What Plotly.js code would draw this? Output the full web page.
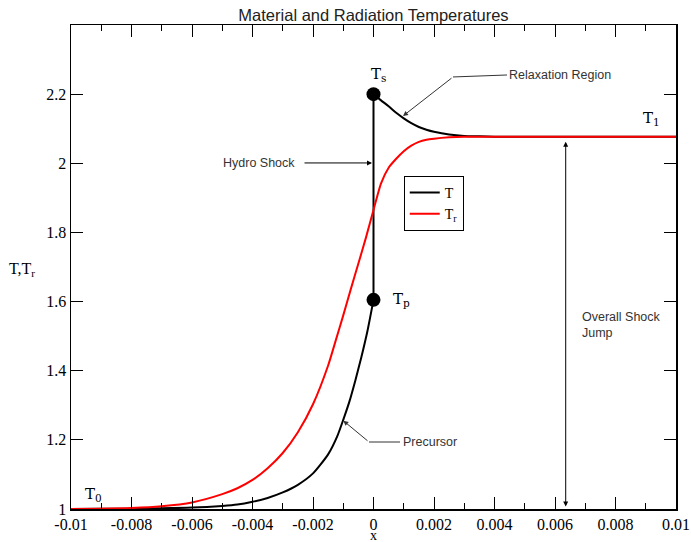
<!DOCTYPE html>
<html>
<head>
<meta charset="utf-8">
<script src="https://cdn.plot.ly/plotly-3.0.1.min.js"></script>
<style>html,body{margin:0;padding:0;background:#fff;}#chart{width:691px;height:542px;}</style>
</head>
<body>
<div id="chart"></div>
<script>
// ---- data ----
// material temperature T, precursor part (x <= 0)
var xPre = [-0.01, -0.009, -0.008, -0.007, -0.006, -0.005, -0.0045, -0.004, -0.0035, -0.003, -0.0025,
            -0.002, -0.0015, -0.0012, -0.001, -0.0008, -0.0006, -0.0004, -0.0002, 0];
var yPre = [1.000, 1.0005, 1.001, 1.002, 1.004, 1.009, 1.013, 1.021, 1.032, 1.048, 1.070,
            1.103, 1.158, 1.210, 1.258, 1.310, 1.372, 1.440, 1.515, 1.605];
// material temperature T, relaxation part (x >= 0)
var xRelax = [0, 0.00025, 0.0005, 0.00075, 0.001, 0.00125, 0.0015, 0.00175, 0.002, 0.0025, 0.003,
              0.0035, 0.004, 0.006, 0.008, 0.01];
var yRelax = [2.200, 2.182, 2.165, 2.146, 2.130, 2.116, 2.105, 2.097, 2.091, 2.083, 2.079,
              2.078, 2.077, 2.077, 2.077, 2.077];
// radiation temperature Tr
var xTr = [-0.01, -0.009, -0.008, -0.007, -0.006, -0.005, -0.0045, -0.004, -0.0035, -0.003, -0.0025,
           -0.002, -0.0015, -0.00125, -0.001, -0.00075, -0.0005, -0.00025, 0, 0.00025, 0.0005,
           0.00075, 0.001, 0.00125, 0.0015, 0.00175, 0.002, 0.0025, 0.003, 0.004, 0.006, 0.008, 0.01];
var yTr = [1.000, 1.001, 1.003, 1.008, 1.019, 1.043, 1.060, 1.084, 1.118, 1.162, 1.222,
           1.303, 1.415, 1.487, 1.560, 1.636, 1.710, 1.785, 1.865, 1.942, 1.987,
           2.013, 2.035, 2.051, 2.062, 2.068, 2.071, 2.075, 2.077, 2.077, 2.077, 2.077, 2.077];
// labelled points: Tp (end of precursor) and Ts (post-shock peak); hydro shock joins them at x = 0
var shockX = [0, 0];
var shockY = [1.605, 2.200];   // Tp, Ts
var T1 = 2.077;
var T0 = 1.0;
var xTickVals = [-0.01, -0.008, -0.006, -0.004, -0.002, 0, 0.002, 0.004, 0.006, 0.008, 0.01];
var xTickLabels = ["-0.01", "-0.008", "-0.006", "-0.004", "-0.002", "0", "0.002", "0.004", "0.006", "0.008", "0.01"];
var yTickVals = [1, 1.2, 1.4, 1.6, 1.8, 2, 2.2];
var yTickLabels = ["1", "1.2", "1.4", "1.6", "1.8", "2", "2.2"];
var seriesNames = ["T", "T<sub>r</sub>"];

// ---- styles ----
var serif = "Liberation Serif, Times New Roman, serif";
var labelSerif = "DejaVu Serif, serif";
var sans = "Liberation Sans, Arial, sans-serif";
var noteColor = "#333333";
var noteFont = {family: sans, size: 12.5, color: noteColor};
var tFont = {family: labelSerif, size: 15, color: "#000"};

var traces = [
  {x: xPre, y: yPre, name: seriesNames[0], legendgroup: "T", mode: "lines", type: "scatter",
   line: {color: "#000000", width: 2, shape: "spline", smoothing: 0.6}},
  {x: shockX, y: shockY, name: seriesNames[0], legendgroup: "T", showlegend: false, mode: "lines+markers", type: "scatter",
   line: {color: "#000000", width: 2}, marker: {color: "#000000", size: 14}, cliponaxis: false},
  {x: xRelax, y: yRelax, name: seriesNames[0], legendgroup: "T", showlegend: false, mode: "lines", type: "scatter",
   line: {color: "#000000", width: 2, shape: "spline", smoothing: 0.6}},
  {x: xTr, y: yTr, name: seriesNames[1], mode: "lines", type: "scatter",
   line: {color: "#ff0000", width: 2, shape: "spline", smoothing: 0.6}}
];

var annotations = [
  // point labels
  {x: shockX[1], y: shockY[1], text: "T<sub>s</sub>", showarrow: false, xanchor: "center", yanchor: "middle",
   xshift: 5, yshift: 20, font: tFont},
  {x: shockX[0], y: shockY[0], text: "T<sub>p</sub>", showarrow: false, xanchor: "left", yanchor: "middle",
   xshift: 17, yshift: 0, font: tFont},
  {x: -0.01, y: T0, text: "T<sub>0</sub>", showarrow: false, xanchor: "left", yanchor: "middle",
   xshift: 12, yshift: 15, font: tFont},
  {x: 0.01, y: T1, text: "T<sub>1</sub>", showarrow: false, xanchor: "right", yanchor: "middle",
   xshift: -14, yshift: 18, font: tFont},
  // Relaxation Region
  {x: 0.004413, y: 2.2554, text: "Relaxation Region", showarrow: false, xanchor: "left", yanchor: "middle", font: noteFont},
  {x: 0.000975, y: 2.1368, ax: 50, ay: -39, text: "", showarrow: true, arrowhead: 2, arrowsize: 1, arrowwidth: 1, arrowcolor: noteColor},
  // Hydro Shock
  {x: -0.00252, y: 2.001, text: "Hydro Shock", showarrow: false, xanchor: "right", yanchor: "middle", font: noteFont},
  {x: -0.00005, y: 2.001, ax: -69, ay: 0, text: "", showarrow: true, arrowhead: 2, arrowsize: 1, arrowwidth: 1, arrowcolor: "#000"},
  // Precursor
  {x: 0.000909, y: 1.1938, text: "Precursor", showarrow: false, xanchor: "left", yanchor: "middle", font: noteFont},
  {x: -0.000998, y: 1.2554, ax: 25.7, ay: 21.3, text: "", showarrow: true, arrowhead: 2, arrowsize: 1, arrowwidth: 1, arrowcolor: noteColor},
  // Overall shock jump
  {x: 0.006826, y: 1.533, text: "Overall Shock<br>Jump", align: "left", showarrow: false, xanchor: "left", yanchor: "middle", font: noteFont},
  {x: 0.006354, y: 2.0625, axref: "x", ayref: "y", ax: 0.006354, ay: 1.003, text: "", showarrow: true,
   arrowside: "end+start", arrowhead: 2, startarrowhead: 2, arrowsize: 1, startarrowsize: 1, arrowwidth: 1, arrowcolor: "#000"},
  // axis labels
  {xref: "paper", yref: "paper", x: -0.081, y: 0.494, text: "T,T<sub>r</sub>", showarrow: false,
   xanchor: "center", yanchor: "middle", font: {family: serif, size: 16, color: "#000"}},
  {xref: "paper", yref: "paper", x: 0.5, y: -0.054, text: "x", showarrow: false,
   xanchor: "center", yanchor: "middle", font: {family: serif, size: 14, color: "#000"}}
];

var shapes = [
  {type: "line", x0: 0.004413, y0: 2.2554, x1: 0.002628, y1: 2.2497, line: {color: noteColor, width: 1}},
  {type: "line", x0: 0.000876, y0: 1.1938, x1: -0.000149, y1: 1.1938, line: {color: noteColor, width: 1}}
];

var layout = {
  width: 691, height: 542,
  margin: {l: 71, r: 15, t: 25, b: 33, pad: 0},
  paper_bgcolor: "#ffffff", plot_bgcolor: "#ffffff",
  title: {text: "Material and Radiation Temperatures", x: 0.5, xref: "paper", y: 1 - 15 / 542, yref: "container",
          xanchor: "center", yanchor: "middle", font: {family: sans, size: 16.5, color: "#222"}},
  showlegend: true,
  legend: {x: 0.550, y: 0.688, xanchor: "left", yanchor: "top", bgcolor: "#ffffff", bordercolor: "#000000",
           borderwidth: 1, font: {family: serif, size: 14, color: "#000"}, itemwidth: 30, tracegroupgap: 0},
  xaxis: {
    range: [-0.01, 0.01], tickmode: "array", tickvals: xTickVals, ticktext: xTickLabels,
    ticks: "inside", ticklen: 12, tickwidth: 1, tickcolor: "#000",
    minor: {tickmode: "linear", tick0: -0.01, dtick: 0.001, ticks: "inside", ticklen: 6, tickwidth: 1, tickcolor: "#000", showgrid: false},
    showline: true, linecolor: "#000", linewidth: 1.5, mirror: "ticks",
    showgrid: false, zeroline: false,
    tickfont: {family: serif, size: 16, color: "#000"}
  },
  yaxis: {
    range: [1, 2.4], tickmode: "array", tickvals: yTickVals, ticktext: yTickLabels,
    ticks: "inside", ticklen: 12, tickwidth: 1, tickcolor: "#000",
    showline: true, linecolor: "#000", linewidth: 1.5, mirror: "ticks",
    showgrid: false, zeroline: false,
    tickfont: {family: serif, size: 16, color: "#000"}
  },
  annotations: annotations,
  shapes: shapes
};

Plotly.newPlot("chart", traces, layout, {displayModeBar: false, staticPlot: true});
</script>
</body>
</html>
